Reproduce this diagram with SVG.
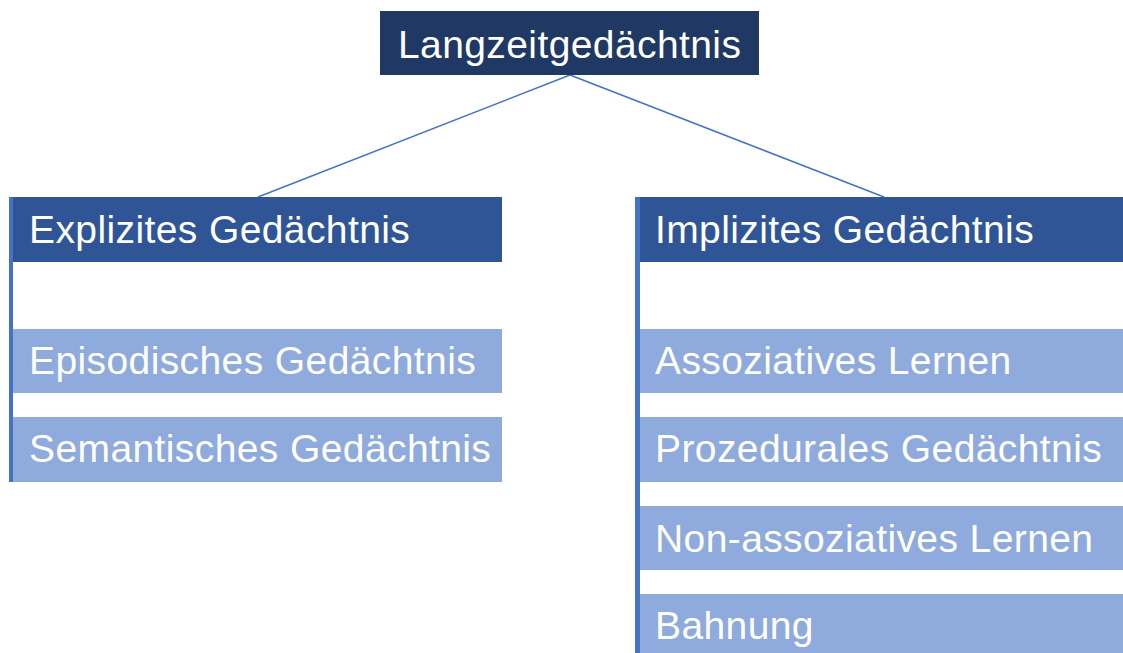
<svg xmlns="http://www.w3.org/2000/svg" width="1123" height="653" viewBox="0 0 1123 653">
<style>
text{font-family:"Liberation Sans",Arial,sans-serif;fill:#fff;font-size:39px;letter-spacing:0.4px}
.top{fill:#203864}
.hdr{fill:#2F5597}
.sub{fill:#8FAADC}
.bar{fill:#4472C4}
.conn{stroke:#4472C4;stroke-width:1.5;fill:none}
</style>
<rect width="1123" height="653" fill="#fff"/>
<g id="connectors">
<line class="conn" x1="570" y1="75" x2="258" y2="197"/>
<line class="conn" x1="570" y1="75" x2="884" y2="197"/>
</g>
<g id="langzeit">
<rect class="top" x="380" y="11" width="379" height="64"/>
<text x="398" y="58">Langzeitgedächtnis</text>
</g>
<g id="explizit">
<rect class="bar" x="9" y="197" width="4" height="285"/>
<rect class="hdr" x="13" y="197" width="489" height="65"/>
<text x="29" y="243">Explizites Gedächtnis</text>
</g>
<g id="episodisch">
<rect class="sub" x="13" y="329" width="489" height="64"/>
<text x="29" y="374">Episodisches Gedächtnis</text>
</g>
<g id="semantisch">
<rect class="sub" x="13" y="417" width="489" height="65"/>
<text x="29" y="462">Semantisches Gedächtnis</text>
</g>
<g id="implizit">
<rect class="bar" x="635" y="197" width="5" height="456"/>
<rect class="hdr" x="640" y="197" width="483" height="65"/>
<text x="655" y="243">Implizites Gedächtnis</text>
</g>
<g id="assoziativ">
<rect class="sub" x="640" y="329" width="483" height="64"/>
<text x="655" y="374">Assoziatives Lernen</text>
</g>
<g id="prozedural">
<rect class="sub" x="640" y="417" width="483" height="65"/>
<text x="655" y="462">Prozedurales Gedächtnis</text>
</g>
<g id="nonassoziativ">
<rect class="sub" x="640" y="506" width="483" height="64"/>
<text x="655" y="552">Non-assoziatives Lernen</text>
</g>
<g id="bahnung">
<rect class="sub" x="640" y="594" width="483" height="59"/>
<text x="655" y="639">Bahnung</text>
</g>
</svg>
